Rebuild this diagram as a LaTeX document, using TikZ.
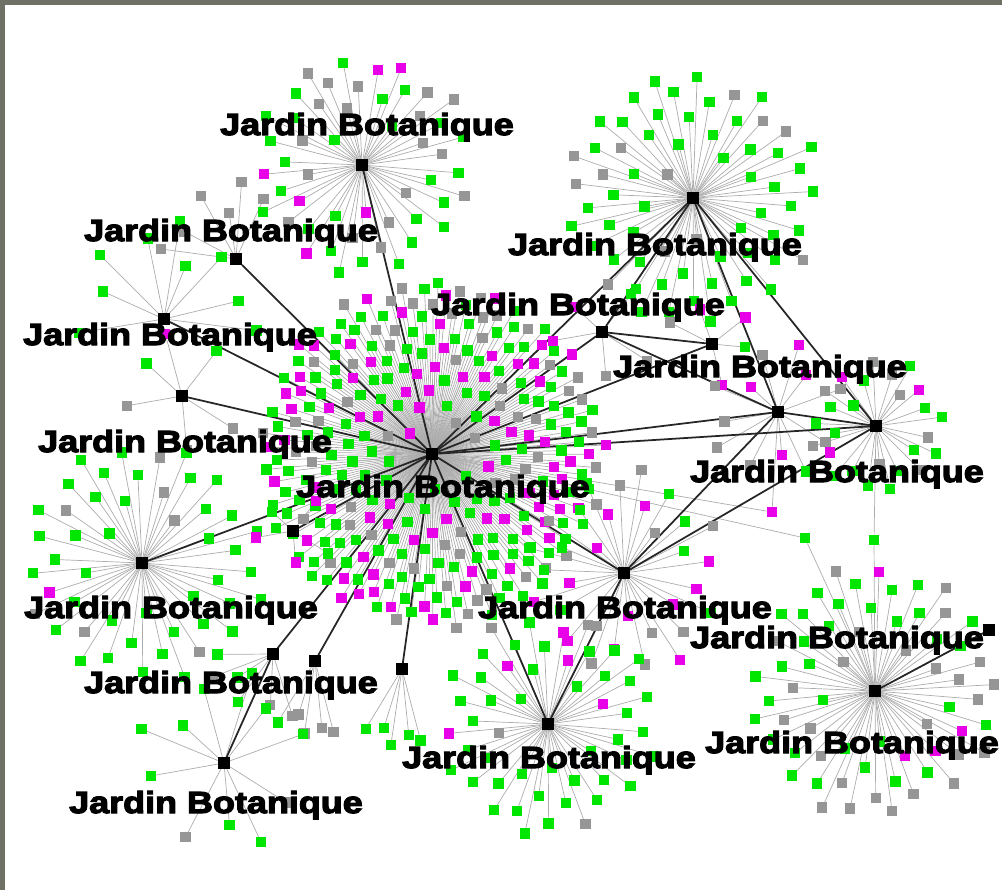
\documentclass[tikz,border=0pt]{standalone}
\usepackage{fontspec}
\newfontfamily\sitefont{Liberation Sans}[FakeStretch=1.18,FakeBold=4]
\definecolor{leafgreen}{RGB}{0,230,0}
\definecolor{leafpink}{RGB}{232,0,232}
\definecolor{leafgray}{RGB}{150,150,150}
\definecolor{linkgray}{RGB}{172,172,172}
\definecolor{framegray}{RGB}{112,113,102}
\pgfdeclarelayer{thinlinks}
\pgfdeclarelayer{thicklinks}
\pgfdeclarelayer{top}
\pgfsetlayers{thinlinks,thicklinks,main,top}
\tikzset{
  hub/.style={draw=none,fill=black,minimum size=0.34cm,inner sep=0pt},
  leaf/.style={draw=none,minimum size=0.31cm,inner sep=0pt},
  thinlink/.style={draw=linkgray,line width=0.6pt},
  thicklink/.style={draw=black!85,line width=1.5pt},
  sitelabel/.style={font=\sitefont\bfseries\fontsize{26}{28}\selectfont,anchor=base,inner sep=0pt}
}
% spokes: hub, count, start angle, span, inner radius, outer radius
\newcommand\leafspokes[6]{%
  \foreach \i in {1,...,#2}{
    \pgfmathsetmacro\ang{#3+#4*mod(\i*0.618034,1)}
    \pgfmathsetmacro\rad{#5+(#6-#5)*sqrt((\i-0.5)/#2)+6*rnd}
    \draw[thinlink] (#1) -- ++(\ang:\rad) coordinate (#1-p\i);
  }%
}
% leaves: hub, count, green share, green+pink share
\newcommand\leafnodes[4]{%
  \foreach \i in {1,...,#2}{
    \pgfmathsetmacro\pick{rnd}
    \ifdim\pick pt<#3pt\def\lc{leafgreen}\else\ifdim\pick pt<#4pt\def\lc{leafpink}\else\def\lc{leafgray}\fi\fi
    \node[leaf,fill=\lc] (#1-\i) at (#1-p\i) {};
  }%
}
\begin{document}
\begin{tikzpicture}[x=0.03cm,y=-0.03cm]
  \pgfmathsetseed{12}
  \useasboundingbox (0,0) rectangle (1002,890);
  \begin{pgfonlayer}{top}
    \draw
      (432,454) node[hub] (h0) {}
      (362,165) node[hub] (h1) {}
      (693,198) node[hub] (h2) {}
      (236,259) node[hub] (h3) {}
      (164,319) node[hub] (h4) {}
      (182,396) node[hub] (h5) {}
      (602,332) node[hub] (h6) {}
      (712,344) node[hub] (h7) {}
      (778,412) node[hub] (h8) {}
      (876,426) node[hub] (h9) {}
      (142,563) node[hub] (h10) {}
      (293,531) node[hub] (h11) {}
      (624,573) node[hub] (h12) {}
      (273,654) node[hub] (h13) {}
      (315,661) node[hub] (h14) {}
      (402,669) node[hub] (h15) {}
      (548,724) node[hub] (h16) {}
      (224,763) node[hub] (h17) {}
      (875,691) node[hub] (h18) {}
      (989,630) node[hub] (h19) {};
  \end{pgfonlayer}
  % spokes round each hub
  \begin{pgfonlayer}{thinlinks}
    \leafspokes{h0}{290}{0}{360}{22}{170}
    \leafspokes{h1}{50}{0}{360}{28}{108}
    \leafspokes{h2}{64}{0}{360}{25}{125}
    \leafspokes{h3}{6}{175}{140}{30}{78}
    \leafspokes{h4}{9}{150}{230}{45}{95}
    \leafspokes{h5}{6}{0}{360}{40}{60}
    \leafspokes{h6}{5}{0}{360}{28}{50}
    \leafspokes{h7}{5}{180}{300}{25}{45}
    \leafspokes{h8}{12}{0}{360}{25}{70}
    \leafspokes{h9}{26}{0}{360}{25}{65}
    \leafspokes{h10}{48}{0}{360}{30}{120}
    \leafspokes{h11}{5}{0}{360}{18}{40}
    \leafspokes{h12}{32}{0}{360}{25}{100}
    \leafspokes{h13}{6}{60}{140}{30}{65}
    \leafspokes{h14}{5}{70}{60}{45}{75}
    \leafspokes{h15}{5}{70}{60}{50}{75}
    \leafspokes{h16}{50}{0}{360}{25}{108}
    \leafspokes{h17}{11}{0}{360}{40}{90}
    \leafspokes{h18}{62}{0}{360}{30}{125}
  \end{pgfonlayer}
  % leaves
  \leafnodes{h0}{290}{0.55}{0.77}
  \leafnodes{h1}{50}{0.66}{0.76}
  \leafnodes{h2}{64}{0.84}{0.87}
  \leafnodes{h3}{6}{0}{0}
  \leafnodes{h4}{9}{0.75}{0.75}
  \leafnodes{h5}{6}{0.35}{0.7}
  \leafnodes{h6}{5}{0.3}{0.8}
  \leafnodes{h7}{5}{0.3}{0.8}
  \leafnodes{h8}{12}{0.3}{0.55}
  \leafnodes{h9}{26}{0.66}{0.82}
  \leafnodes{h10}{48}{0.68}{0.78}
  \leafnodes{h11}{5}{0.3}{0.9}
  \leafnodes{h12}{32}{0.4}{0.68}
  \leafnodes{h13}{6}{0.5}{0.5}
  \leafnodes{h14}{5}{0.3}{0.3}
  \leafnodes{h15}{5}{1}{1}
  \leafnodes{h16}{50}{0.84}{0.92}
  \leafnodes{h17}{11}{0.75}{0.85}
  \leafnodes{h18}{62}{0.56}{0.6}
  % leaves shared by two hubs
  \node[leaf,fill=leafgreen] (s1) at (874,540) {};
  \node[leaf,fill=leafgreen] (s2) at (805,538) {};
  \node[leaf,fill=leafpink] (s3) at (772,512) {};
  \begin{pgfonlayer}{thinlinks}
    \begin{scope}[thinlink]
      \draw (h9) to (s1);
      \draw (s1) to (h18);
      \draw (h0) to (s2);
      \draw (s2) to (h18);
      \draw (h0) to (s3);
      \draw (s3) to (h8);
    \end{scope}
  \end{pgfonlayer}
  \begin{pgfonlayer}{thicklinks}
    \begin{scope}[thicklink]
      \draw (h0) to (h1);
      \draw (h0) to (h2);
      \draw (h0) to (h3);
      \draw (h0) to (h4);
      \draw (h0) to (h5);
      \draw (h0) to (h6);
      \draw (h0) to (h7);
      \draw (h0) to (h8);
      \draw (h0) to (h9);
      \draw (h0) to (h10);
      \draw (h0) to (h11);
      \draw (h0) to (h12);
      \draw (h0) to (h13);
      \draw (h0) to (h14);
      \draw (h0) to (h15);
      \draw (h0) to (h16);
      \draw (h2) to (h6);
      \draw (h2) to (h8);
      \draw (h2) to (h9);
      \draw (h6) to (h7);
      \draw (h6) to (h8);
      \draw (h8) to (h9);
      \draw (h12) to (h8);
      \draw (h12) to (h9);
      \draw (h12) to (h16);
      \draw (h13) to (h17);
      \draw (h18) to (h19);
    \end{scope}
  \end{pgfonlayer}
  \begin{pgfonlayer}{top}
    \node[sitelabel] (t1) at (367,135) {Jardin Botanique};
    \node[sitelabel] (t2) at (231,241) {Jardin Botanique};
    \node[sitelabel] (t3) at (655,255) {Jardin Botanique};
    \node[sitelabel] (t4) at (170,345) {Jardin Botanique};
    \node[sitelabel] (t5) at (578,315) {Jardin Botanique};
    \node[sitelabel] (t6) at (760,377) {Jardin Botanique};
    \node[sitelabel] (t7) at (185,452) {Jardin Botanique};
    \node[sitelabel] (t8) at (443,497) {Jardin Botanique};
    \node[sitelabel] (t9) at (837,482) {Jardin Botanique};
    \node[sitelabel] (t10) at (171,618) {Jardin Botanique};
    \node[sitelabel] (t11) at (625,618) {Jardin Botanique};
    \node[sitelabel] (t12) at (837,648) {Jardin Botanique};
    \node[sitelabel] (t13) at (231,693) {Jardin Botanique};
    \node[sitelabel] (t14) at (549,768) {Jardin Botanique};
    \node[sitelabel] (t15) at (852,753) {Jardin Botanique};
    \node[sitelabel] (t16) at (216,813) {Jardin Botanique};
    % frame on the top and left edges
    \fill[framegray] (0,0) rectangle (1002,5);
    \fill[framegray] (0,0) rectangle (5,890);
  \end{pgfonlayer}
\end{tikzpicture}
\end{document}
